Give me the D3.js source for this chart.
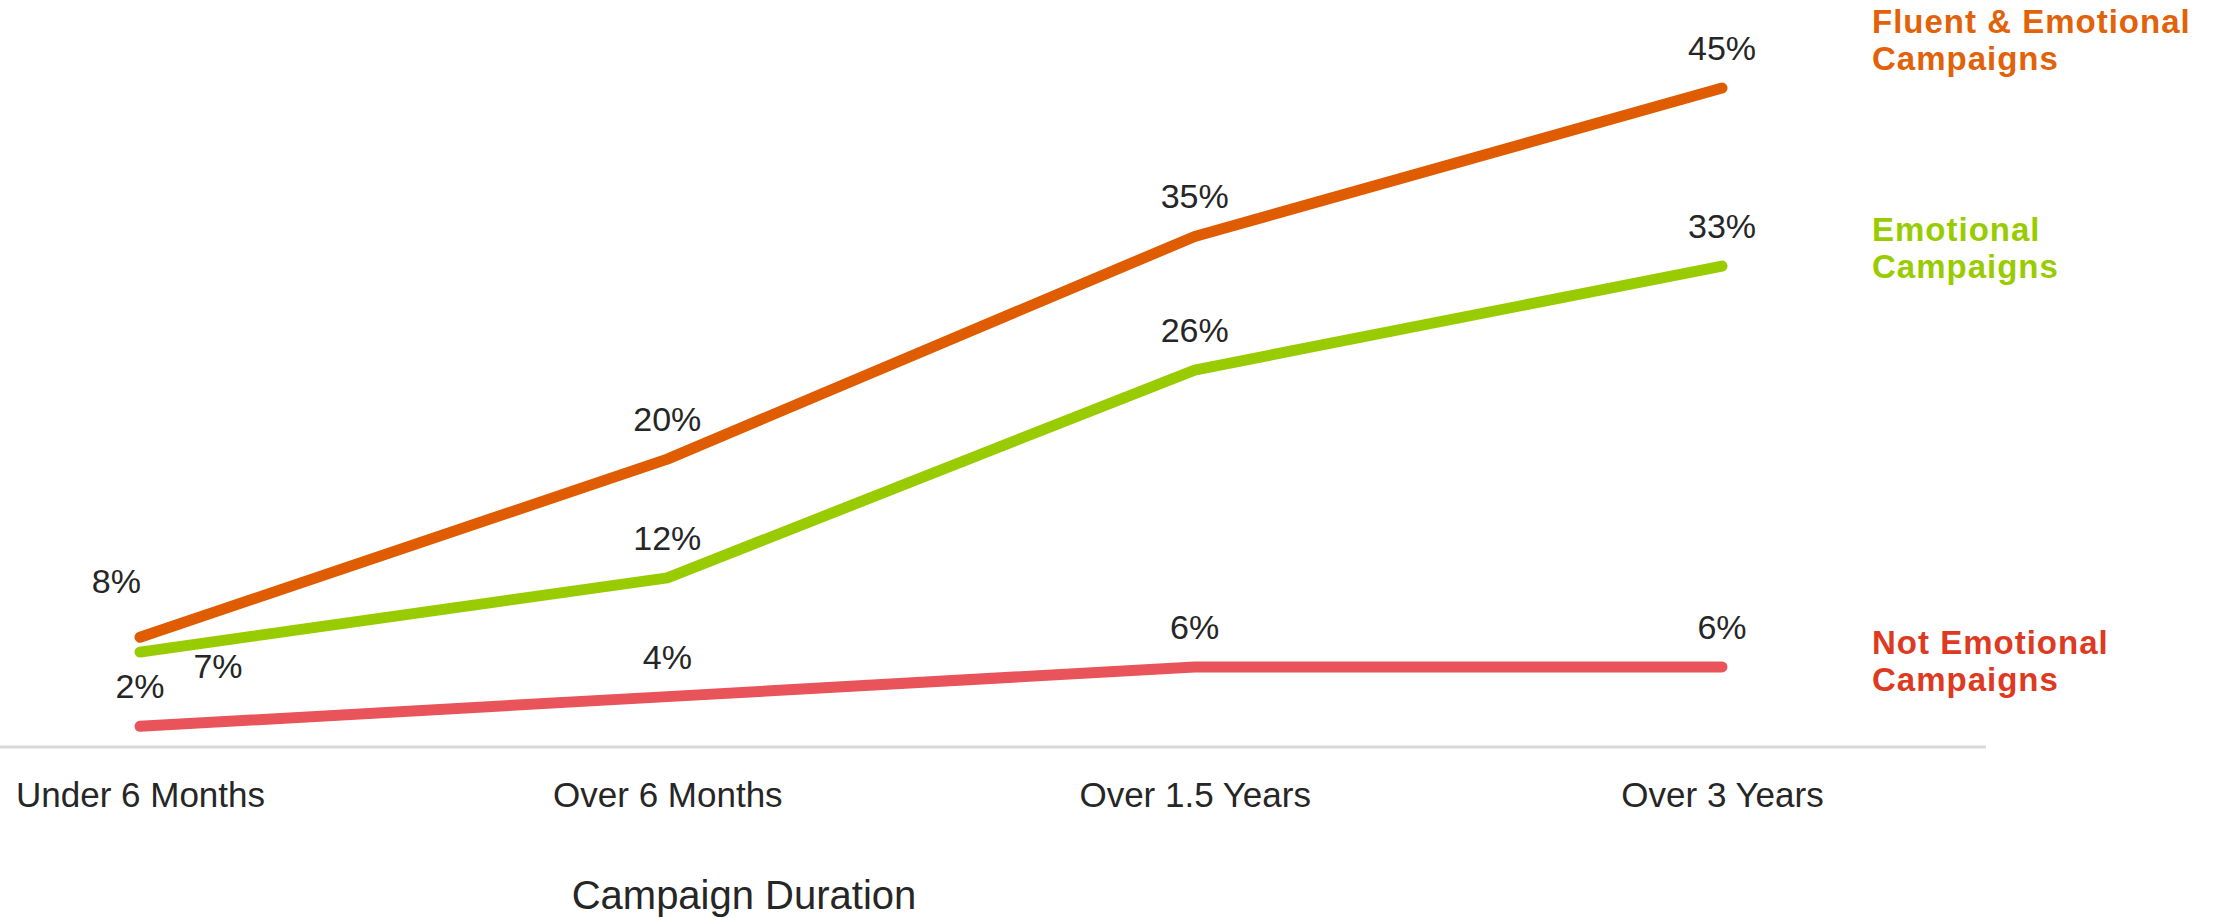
<!DOCTYPE html>
<html>
<head>
<meta charset="utf-8">
<script src="https://cdn.jsdelivr.net/npm/d3@7"></script>
<style>
  html, body { margin: 0; padding: 0; background: #ffffff; }
  svg { display: block; }
</style>
</head>
<body>
<svg id="chart" width="2221" height="918"></svg>
<script>
// Campaign duration categories and share of campaigns per group (%)
const categories = ["Under 6 Months", "Over 6 Months", "Over 1.5 Years", "Over 3 Years"];
const fluentEmotional = [8, 20, 35, 45];
const emotional = [7, 12, 26, 33];
const notEmotional = [2, 4, 6, 6];
const seriesNames = [
  ["Fluent & Emotional", "Campaigns"],
  ["Emotional", "Campaigns"],
  ["Not Emotional", "Campaigns"]
];
const xAxisTitle = "Campaign Duration";

const W = 2221, H = 918;
const svg = d3.select("#chart");
svg.append("rect").attr("width", W).attr("height", H).attr("fill", "#ffffff");

const x = d3.scalePoint().domain(categories).range([140, 1722]);
const y = d3.scaleLinear().domain([0, 45]).range([756, 88]);

const baselineY = 747;
const FONT = "'Liberation Sans', Arial, sans-serif";

// Baseline of the category axis
svg.append("line")
  .attr("x1", 0).attr("x2", 1986)
  .attr("y1", baselineY).attr("y2", baselineY)
  .attr("stroke", "#d9d9d9").attr("stroke-width", 3);

// Category labels
const xAxis = svg.append("g")
  .attr("transform", `translate(0,${baselineY})`)
  .call(d3.axisBottom(x).tickSize(0).tickPadding(35));
xAxis.select(".domain").remove();
xAxis.selectAll("text")
  .attr("font-family", FONT)
  .attr("font-size", 35)
  .attr("fill", "#262626");

svg.append("text")
  .attr("x", 744).attr("y", 909)
  .attr("text-anchor", "middle")
  .attr("font-family", FONT)
  .attr("font-size", 40)
  .attr("fill", "#262626")
  .text(xAxisTitle);

// Series, drawn back to front
const series = [
  { key: "not", values: notEmotional, color: "#E8545A", text: "#DE3A22", names: seriesNames[2], legendY: 654 },
  { key: "emo", values: emotional, color: "#99CC00", text: "#99CC00", names: seriesNames[1], legendY: 241 },
  { key: "fluent", values: fluentEmotional, color: "#E05C00", text: "#E2620A", names: seriesNames[0], legendY: 33 }
];

const line = d3.line()
  .x((d, i) => x(categories[i]))
  .y(d => y(d));

series.forEach(s => {
  svg.append("path")
    .datum(s.values)
    .attr("d", line)
    .attr("fill", "none")
    .attr("stroke", s.color)
    .attr("stroke-width", 11)
    .attr("stroke-linecap", "round")
    .attr("stroke-linejoin", "round");
});

// Value labels: above each point, except the crowded first column
function labelPlacement(key, i) {
  if (key === "fluent" && i === 0) return { dx: 1, dy: -44, anchor: "end" };
  if (key === "emo" && i === 0) return { dx: 78, dy: 26, anchor: "middle" };
  return { dx: 0, dy: -28, anchor: "middle" };
}

series.forEach(s => {
  svg.append("g")
    .selectAll("text")
    .data(s.values)
    .join("text")
    .each(function (d, i) {
      const p = labelPlacement(s.key, i);
      d3.select(this)
        .attr("x", x(categories[i]) + p.dx)
        .attr("y", y(d) + p.dy)
        .attr("text-anchor", p.anchor);
    })
    .attr("font-family", FONT)
    .attr("font-size", 34)
    .attr("fill", "#262626")
    .text(d => d + "%");
});

// Direct labels for each series at the right
series.forEach(s => {
  const t = svg.append("text")
    .attr("x", 1872)
    .attr("y", s.legendY)
    .attr("font-family", FONT)
    .attr("font-size", 33)
    .attr("font-weight", "bold")
    .attr("letter-spacing", 1)
    .attr("fill", s.text);
  s.names.forEach((n, k) => {
    t.append("tspan")
      .attr("x", 1872)
      .attr("y", s.legendY + k * 37)
      .text(n);
  });
});
</script>
</body>
</html>
